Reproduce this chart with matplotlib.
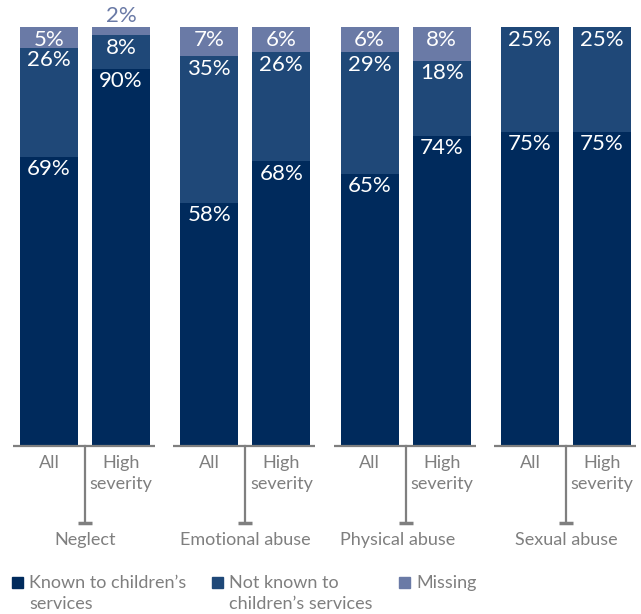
import matplotlib
matplotlib.use("Agg")
import matplotlib.pyplot as plt
from matplotlib.patches import Rectangle
import numpy as np

# data (percent)
groups = ["Neglect", "Emotional abuse", "Physical abuse", "Sexual abuse"]
sublabels = ["All", "High\nseverity"]
known = [69, 90, 58, 68, 65, 74, 75, 75]
not_known = [26, 8, 35, 26, 29, 18, 25, 25]
missing = [5, 2, 7, 6, 6, 8, 0, 0]
series_names = ["Known to children’s\nservices", "Not known to\nchildren’s services", "Missing"]

c_known = "#002a5c"
c_not = "#1f4878"
c_miss = "#6a7aa6"
c_grey = "#7f7f7f"

plt.rcParams['font.family'] = ['Lato', 'DejaVu Sans']

W, H = 641, 614
fig = plt.figure(figsize=(W / 100, H / 100), dpi=100)
base_px, top_px = 446, 27
ax = fig.add_axes([0, (H - base_px) / H, 1, (base_px - top_px) / H])
ax.set_xlim(0, W)
ax.set_ylim(0, 100)
ax.axis("off")
ppu = (base_px - top_px) / 100.0  # pixels per percent


def py(p):
    # pixel row -> data y
    return (base_px - p) / ppu


centers = np.array([85 + 160.3 * i for i in range(len(groups))])
xs = np.ravel([[c - 36, c + 36] for c in centers])
bw = 58

ax.bar(xs, known, bw, color=c_known)
ax.bar(xs, not_known, bw, bottom=known, color=c_not)
ax.bar(xs, missing, bw, bottom=np.add(known, not_known), color=c_miss)

lab_kw = dict(ha="center", va="center", fontsize=16)
off = -12.5 * 0.72
for i, x in enumerate(xs):
    ax.annotate(f"{known[i]}%", (x, known[i]), xytext=(0, off), textcoords="offset points",
                color="white", **lab_kw)
    top2 = known[i] + not_known[i]
    ax.annotate(f"{not_known[i]}%", (x, top2), xytext=(0, off), textcoords="offset points",
                color="white", **lab_kw)
    if missing[i] >= 4:
        ax.annotate(f"{missing[i]}%", (x, 100), xytext=(0, off), textcoords="offset points",
                    color="white", **lab_kw)
    elif missing[i] > 0:
        ax.annotate(f"{missing[i]}%", (x, 100), xytext=(0, 11 * 0.72), textcoords="offset points",
                    color=c_miss, **lab_kw)

# group axes, dividers and labels
name_shift = [0, 0, -8, 0]  # "Physical abuse" sits a bit left of its divider
for g, c in enumerate(centers):
    ax.plot([c - 72, c + 70], [0, 0], color=c_grey, lw=1.6, clip_on=False, solid_capstyle="butt")
    ax.plot([c, c], [0, py(523)], color=c_grey, lw=1.6, clip_on=False)
    ax.plot([c - 7, c + 7], [py(523), py(523)], color=c_grey, lw=2.5, clip_on=False,
            solid_capstyle="butt")
    ax.text(c + name_shift[g], py(540), groups[g], ha="center", va="center", fontsize=13,
            color=c_grey, clip_on=False)
    for k, s in enumerate(sublabels):
        ax.text(xs[2 * g + k], py(455), s, ha="center", va="top", fontsize=13, color=c_grey,
                linespacing=1.38, clip_on=False)

# legend drawn by hand
leg_x = [12, 212, 399]
for k, (name, col) in enumerate(zip(series_names, [c_known, c_not, c_miss])):
    fig.patches.append(Rectangle((leg_x[k] / W, 1 - 588 / H), 11 / W, 11 / H,
                                 transform=fig.transFigure, color=col))
    fig.text((leg_x[k] + 17) / W, 1 - 575 / H, name, ha="left", va="top", fontsize=13,
             color=c_grey, linespacing=1.38)

fig.savefig("out.png", dpi=100)
